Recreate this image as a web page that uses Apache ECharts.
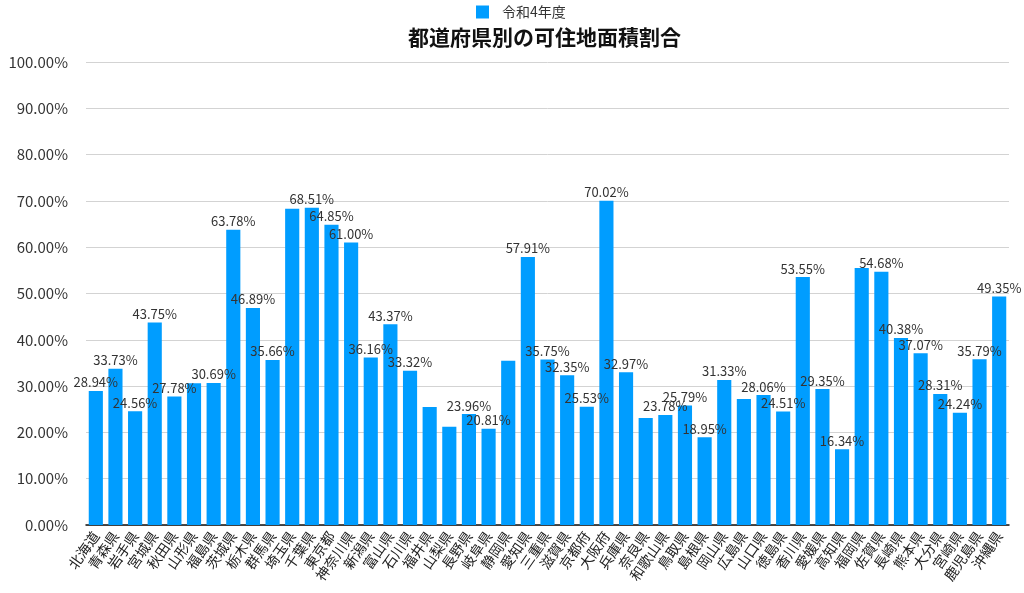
<!DOCTYPE html>
<html><head><meta charset="utf-8">
<script src="https://cdn.jsdelivr.net/npm/echarts@6/dist/echarts.min.js"></script>
<style>html,body{margin:0;padding:0;background:#fff}#c{width:1024px;height:593px}</style>
</head><body><div id="c"></div>
<script>
const categories = ['北海道','青森県','岩手県','宮城県','秋田県','山形県','福島県','茨城県','栃木県','群馬県','埼玉県','千葉県','東京都','神奈川県','新潟県','富山県','石川県','福井県','山梨県','長野県','岐阜県','静岡県','愛知県','三重県','滋賀県','京都府','大阪府','兵庫県','奈良県','和歌山県','鳥取県','島根県','岡山県','広島県','山口県','徳島県','香川県','愛媛県','高知県','福岡県','佐賀県','長崎県','熊本県','大分県','宮崎県','鹿児島県','沖縄県'];
const values = [28.94,33.73,24.56,43.75,27.78,30.6,30.69,63.78,46.89,35.66,68.3,68.51,64.85,61.00,36.16,43.37,33.32,25.5,21.2,23.96,20.81,35.5,57.91,35.75,32.35,25.53,70.02,32.97,23.1,23.78,25.79,18.95,31.33,27.2,28.06,24.51,53.55,29.35,16.34,55.5,54.68,40.38,37.07,28.31,24.24,35.79,49.35];
const unlabeled = ['山形県','埼玉県','福井県','山梨県','静岡県','奈良県','広島県','福岡県'];
const seriesName = '令和4年度';
const titleText = '都道府県別の可住地面積割合';
const yTicks = {min: 0, max: 100, interval: 10};

const font = '"Noto Sans CJK JP", sans-serif';
const data = values.map((v, i) => ({
  value: v,
  label: {show: unlabeled.indexOf(categories[i]) < 0}
}));

const chart = echarts.init(document.getElementById('c'), null, {renderer: 'canvas'});
chart.setOption({
  animation: false,
  textStyle: {fontFamily: font},
  title: {
    text: titleText, left: 408, top: 27, padding: 0,
    textStyle: {fontSize: 21, fontWeight: 'bold', color: '#111', fontFamily: font}
  },
  legend: {
    data: [seriesName], left: 476, top: 5, padding: 0,
    itemWidth: 13, itemHeight: 13, icon: 'rect',
    textStyle: {fontSize: 14, color: '#333', fontFamily: font, padding: [0, 0, 0, 8]}
  },
  grid: {left: 86, right: 15, top: 62, bottom: 68, containLabel: false},
  xAxis: {
    type: 'category', data: categories,
    axisLine: {lineStyle: {color: '#111', width: 1.5}},
    axisTick: {show: false},
    axisLabel: {interval: 0, rotate: 55, fontSize: 14, color: '#222', margin: 8, fontFamily: font}
  },
  yAxis: {
    type: 'value', min: yTicks.min, max: yTicks.max, interval: yTicks.interval,
    axisLine: {show: false}, axisTick: {show: false},
    axisLabel: {formatter: v => v.toFixed(2) + '%', fontSize: 15, color: '#333', margin: 18, fontFamily: font},
    splitLine: {lineStyle: {color: '#d3d3d3', width: 1}}
  },
  series: [{
    name: seriesName, type: 'bar', data: data,
    barCategoryGap: '28%',
    itemStyle: {color: '#009dff'},
    label: {position: 'top', distance: 2, fontSize: 13, color: '#333', fontFamily: font,
      formatter: p => p.value.toFixed(2) + '%'}
  }]
});
</script></body></html>
